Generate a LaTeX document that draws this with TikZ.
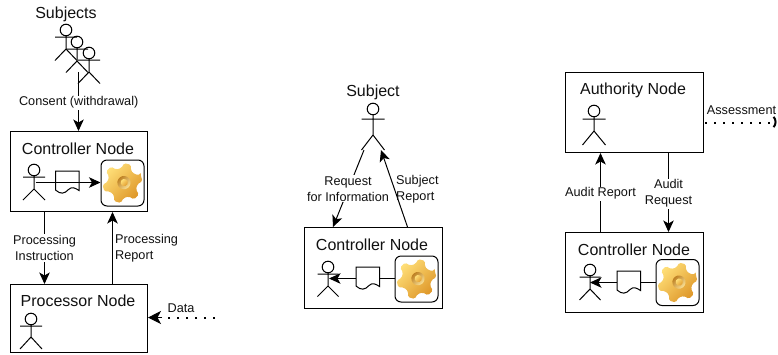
\documentclass[tikz,border=0pt]{standalone}
\usepackage{fontspec}
\setmainfont{Liberation Sans}
\usetikzlibrary{arrows.meta}
\definecolor{ink}{HTML}{111111}
\definecolor{gearlight}{HTML}{FFDF78}
\definecolor{geardark}{HTML}{DE9628}
\tikzset{
  box/.style={draw=black,line width=1pt,minimum width=137pt,inner sep=0pt,fill=white},
  title/.style={font=\fontsize{16}{18}\selectfont,text=ink,inner sep=0pt,yshift=-1pt},
  lbl/.style={font=\fontsize{12.7}{16}\selectfont,text=ink,inner sep=1pt,align=center,fill=white,yshift=-1.2pt},
  lbll/.style={lbl,align=left},
  flow/.style={draw=black,line width=1pt,-{Stealth[length=11.5pt,width=10.5pt,inset=3pt]}},
  plainline/.style={draw=black,line width=1pt},
  dots/.style={draw=black,line width=2pt,dash pattern=on 2pt off 7pt},
  bigtip/.style={-{Stealth[length=13pt,width=13pt,inset=3.5pt]}},
  stick/.style={draw=black,line width=1pt},
  docshape/.style={draw=black,line width=1pt,fill=white},
  gearbox/.style={draw=black,line width=1pt,rounded corners=6pt,fill=white,minimum width=43pt,minimum height=46pt,inner sep=0pt},
  phantombox/.style={inner sep=0pt,minimum width=23pt,minimum height=42pt}
}
% name, head x, head y, arm offset, hip offset, foot offset, half span
\newcommand{\drawactor}[7]{%
  \begin{scope}[shift={(#2,#3)}]
    \draw[stick] (0,0) circle (5.8);
    \draw[stick] (0,5.8) -- (0,#5) (-#7,#4) -- (#7,#4) (-#7,#6) -- (0,#5) -- (#7,#6);
    \node[phantombox] (#1) at (0,14) {};
  \end{scope}}
% name, left x, top y
\newcommand{\drawdoc}[3]{%
  \begin{scope}[shift={(#2,#3)}]
    \draw[docshape] (0,0) -- (23.5,0) -- (23.5,19.5)
      .. controls (19,16.5) and (16.5,15.5) .. (13,18.5)
      .. controls (9,23) and (5,23.5) .. (0,19) -- cycle;
    \coordinate (#1) at (11.75,11);
  \end{scope}}
% name, centre x, centre y
\newcommand{\drawgear}[3]{%
  \node[gearbox] (#1) at (#2,#3) {};
  \begin{scope}[shift={(#2,#3)},rotate=15]
    \path[rounded corners=1.6pt,left color=gearlight,right color=geardark,shading angle=45]
      (-10:20) \foreach \a in {0,60,...,300}{ -- (\a-10:20) -- (\a+10:20) -- (\a+19:15) -- (\a+41:15)} -- cycle;
    \path[left color=geardark!85!black,right color=gearlight!70!white,shading angle=45] (1.5,0) circle (6.6);
    \path[left color=gearlight,right color=geardark,shading angle=45] (1.8,0) circle (3.6);
  \end{scope}}
\begin{document}
\begin{tikzpicture}[x=1pt,y=-1pt]
\useasboundingbox (0,0) rectangle (778,354);
\fill[white] (0,0) rectangle (778,354);

% ---------- left group
\node[title] (subjects) at (66,13) {Subjects};
\drawactor{sa}{66}{30}{7}{19}{30.5}{11}
\drawactor{sb}{77}{42}{7}{19}{30.5}{11}
\drawactor{sc}{89}{53}{7}{19}{30.5}{11}
\node[box,minimum height=80pt,anchor=north west] (ctrlA) at (10,131) {};
\node[title] (ctrlAt) at (78,147.3) {Controller Node};
\drawactor{ca}{34}{170}{7}{19}{30}{11}
\drawdoc{da}{55.5}{171}
\drawgear{ga}{122.5}{183}
\coordinate (caout) at (35.5,182.5);
\draw[flow] (caout) -- (ga.west |- caout);
\node[box,minimum height=68pt,anchor=north west] (proc) at (10,284) {};
\node[title] (proct) at (78,300) {Processor Node};
\drawactor{pa}{31}{319}{7}{18}{30}{11}
\coordinate (consentTop) at (78.5,72);
\draw[flow] (consentTop) -- (ctrlA.north -| consentTop);
\node[lbl] (consentl) at (78.7,101.5) {Consent (withdrawal)};
\coordinate (pi) at (44.5,0);
\draw[flow] (ctrlA.south -| pi) -- (proc.north -| pi)
  node[lbl,pos=.485] {Processing\\Instruction};
\coordinate (pr) at (112.5,0);
\draw[flow] (proc.north -| pr) -- (ctrlA.south -| pr);
\node[lbll,anchor=west,fill=none] (prl) at (114,247) {Processing\\Report};
\coordinate (dataEnd) at (215,317.5);
\draw[dots] (dataEnd) -- (165,317.5);
\draw[line width=1pt,bigtip] (162,317.5) -- (proc.east |- dataEnd);
\node[lbl,fill=none] (datal) at (181,307) {Data};

% ---------- middle group
\node[title] (subject) at (373,91.5) {Subject};
\drawactor{sm}{373}{109}{10}{26}{41}{11.5}
\node[box,minimum width=138pt,minimum height=81pt,anchor=north west] (ctrlB) at (304,227) {};
\node[title] (ctrlBt) at (372,243.8) {Controller Node};
\drawgear{gb}{416.5}{279}
\coordinate (reqS) at (364,150);
\coordinate (reqE) at (333,227);
\draw[flow] (reqS) -- (reqE);
\node[lbl] (reql) at (348,187.5) {Request\\for Information};
\coordinate (repS) at (407.5,227);
\coordinate (repE) at (381,150);
\draw[flow] (repS) -- (repE);
\node[lbll,anchor=west,fill=none] (repl) at (395,188) {Subject\\Report};
\coordinate (dbR) at (356,278.5);
\draw[plainline] (gb.west |- dbR) -- (dbR);
\drawdoc{db}{356}{267}
\drawactor{cb}{328}{267}{7}{19}{29.5}{10.5}
\coordinate (cbIn) at (329,278.5);
\draw[flow] (dbR) -- (cbIn);

% ---------- right group
\node[box,minimum width=138pt,minimum height=80pt,anchor=north west] (auth) at (565,72) {};
\node[title] (autht) at (633,89) {Authority Node};
\drawactor{aa}{594}{111}{8}{20}{34}{11.5}
\node[box,minimum width=138pt,minimum height=80pt,anchor=north west] (ctrlC) at (565,232) {};
\node[title] (ctrlCt) at (634,248.4) {Controller Node};
\drawgear{gc}{677.5}{282.5}
\coordinate (dcR) at (617,282.5);
\draw[plainline] (gc.west |- dcR) -- (dcR);
\drawdoc{dc}{617}{271}
\drawactor{cc}{590}{270}{7}{19}{30}{10.5}
\coordinate (ccIn) at (590,282.5);
\draw[flow] (dcR) -- (ccIn);
\coordinate (ar) at (600.5,0);
\draw[flow] (ctrlC.north -| ar) -- (auth.south -| ar)
  node[lbl,pos=.5] {Audit Report};
\coordinate (aq) at (668.5,0);
\draw[flow] (auth.south -| aq) -- (ctrlC.north -| aq)
  node[lbl,pos=.5] {Audit\\Request};
\coordinate (assEnd) at (770,122.5);
\draw[dots] (auth.east |- assEnd) ++(1,0) -- (assEnd);
\draw[line width=2pt] (773.6,116.8) .. controls (776.2,120) and (776.2,124) .. (773.6,127.2);
\node[lbl,fill=none] (assl) at (741.5,109) {Assessment};
\end{tikzpicture}
\end{document}
